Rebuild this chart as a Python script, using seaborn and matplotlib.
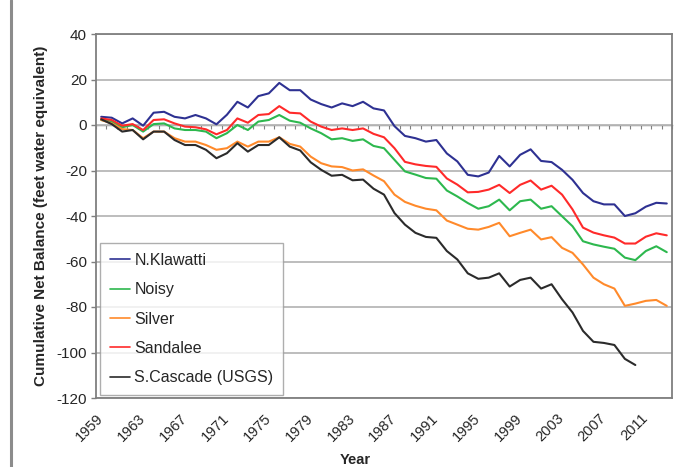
import numpy as np
import pandas as pd
import matplotlib
matplotlib.use("Agg")
import matplotlib.pyplot as plt
from matplotlib.lines import Line2D
import seaborn as sns

years = list(range(1959, 2014))

n_klawatti = [3.6, 3.2, 0.7, 2.9, -0.3, 5.4, 5.8, 3.6, 2.9, 4.4, 2.9,
              0.3, 4.5, 10.2, 7.7, 12.7, 13.9, 18.5, 15.3, 15.3, 11.2,
              9.2, 7.7, 9.5, 8.3, 10.2, 7.3, 6.4, -0.5, -4.8, -5.8,
              -7.3, -6.6, -12.5, -16.0, -21.9, -22.6, -20.9, -13.6, -18.2, -13.1,
              -10.7, -15.8, -16.3, -19.7, -24.1, -29.9, -33.5, -34.9, -34.9, -40.0,
              -38.8, -35.9, -34.2, -34.5]

noisy = [2.2, 1.5, -1.0, 0.0, -2.9, 0.4, 0.7, -1.5, -2.2, -2.2, -2.9,
         -5.8, -3.6, 0.0, -2.2, 1.5, 2.2, 4.4, 1.9, 1.0, -1.5,
         -3.6, -6.3, -5.8, -7.0, -6.3, -9.2, -10.2, -15.3, -20.4, -21.8,
         -23.3, -23.6, -28.8, -31.4, -34.3, -36.8, -35.7, -32.8, -37.5, -33.5,
         -32.8, -36.8, -35.7, -40.1, -44.5, -51.1, -52.5, -53.5, -54.4, -58.3,
         -59.4, -55.4, -53.3, -55.9]

silver = [2.2, 0.7, -1.8, -2.2, -5.8, -2.9, -2.9, -5.8, -7.3, -7.3, -8.8,
          -10.9, -10.2, -7.3, -9.5, -7.3, -7.3, -5.4, -8.3, -9.5, -13.9,
          -16.8, -18.2, -18.5, -20.0, -19.5, -22.2, -24.7, -30.6, -33.8, -35.5,
          -36.8, -37.5, -42.0, -43.8, -45.6, -46.0, -44.8, -43.0, -48.9, -47.4,
          -46.0, -50.3, -49.3, -54.0, -56.2, -61.3, -67.1, -70.0, -71.9, -79.5,
          -78.5, -77.3, -76.9, -79.5]

sandalee = [2.9, 2.2, -0.3, 0.4, -2.2, 2.2, 2.5, 0.7, -0.7, -1.0, -1.9,
            -4.1, -2.2, 2.9, 1.0, 4.4, 4.8, 8.3, 5.4, 5.1, 1.5,
            -0.7, -2.2, -1.5, -2.2, -1.5, -3.9, -5.4, -10.2, -16.2, -17.3,
            -18.0, -18.4, -23.5, -26.2, -29.6, -29.4, -28.4, -26.3, -29.9, -26.3,
            -24.4, -28.4, -26.7, -30.6, -37.1, -45.1, -47.3, -48.5, -49.5, -52.1,
            -52.1, -49.1, -47.6, -48.5]

s_cascade = [2.5, 0.4, -2.9, -2.2, -6.3, -2.9, -2.9, -6.6, -8.8, -8.8, -10.9,
             -14.6, -12.4, -8.0, -11.7, -8.8, -8.8, -5.4, -9.5, -11.2, -16.4,
             -19.7, -22.3, -21.9, -24.3, -24.0, -28.0, -30.6, -38.7, -43.8, -47.4,
             -49.2, -49.6, -55.4, -59.1, -65.2, -67.6, -67.1, -65.2, -71.0, -68.1,
             -67.1, -71.9, -70.0, -76.6, -82.4, -90.5, -95.3, -95.8, -96.7, -102.8,
             -105.5, np.nan, np.nan, np.nan]

series_names = ["N.Klawatti", "Noisy", "Silver", "Sandalee", "S.Cascade (USGS)"]
series_values = [n_klawatti, noisy, silver, sandalee, s_cascade]
colors = ["#2E3192", "#2DB84E", "#FF8A2B", "#FF2A2A", "#2B2B2B"]
tick_years = list(range(1959, 2012, 4))

frames = []
for name, vals in zip(series_names, series_values):
    frames.append(pd.DataFrame({"Year": years, "Value": vals, "Glacier": name}))
df = pd.concat(frames).dropna()

sns.set_style("white")
plt.rcParams["font.family"] = ["Liberation Sans", "DejaVu Sans"]
plt.rcParams["axes.unicode_minus"] = False

fig = plt.figure(figsize=(6.78, 4.67), dpi=100)
ax = fig.add_axes([96 / 678, 1 - 398 / 467, 576 / 678, 364 / 467])

sns.lineplot(data=df, x="Year", y="Value", hue="Glacier", hue_order=series_names,
             palette=dict(zip(series_names, colors)), linewidth=1.5, ax=ax,
             legend=True, estimator=None)

ax.set_xlim(1958.5, 2013.5)
ax.set_ylim(-120, 40)
ax.set_yticks(np.arange(-120, 41, 20))
ax.yaxis.grid(True, color="#b8b8b8", linewidth=1.3)
ax.xaxis.grid(False)
ax.set_axisbelow(True)
for s in ax.spines.values():
    s.set_visible(True)
    s.set_color("#7f7f7f")
    s.set_linewidth(1.3)

ax.set_xticks(tick_years)
ax.set_xticklabels([str(y) for y in tick_years], rotation=45, ha="right",
                   va="center", rotation_mode="anchor", fontsize=10.5)
ax.tick_params(axis="x", length=0, pad=13)
ax.tick_params(axis="y", left=True, length=3.5, width=1, color="#7f7f7f",
               labelsize=11, pad=3)
ax.set_xlabel("Year", fontsize=10.5, fontweight="bold")
ax.xaxis.set_label_coords(0.45, -0.15)
ax.set_ylabel("Cumulative Net Balance (feet water equivalent)", fontsize=11,
              fontweight="bold", labelpad=6)

# category axis crossing at zero, with tick marks at each category boundary
tw = ax.twiny()
tw.set_xlim(ax.get_xlim())
tw.xaxis.set_ticks_position("bottom")
tw.spines["bottom"].set_position(("data", 0))
tw.spines["bottom"].set_color("#808080")
tw.spines["bottom"].set_linewidth(1.0)
for k in ["top", "left", "right"]:
    tw.spines[k].set_visible(False)
tw.set_xticks(np.arange(1958.5, 2014, 1.0))
tw.set_xticklabels([])
tw.tick_params(axis="x", direction="out", length=3, width=0.8, color="#808080")
tw.set_zorder(ax.get_zorder() - 1)
ax.patch.set_visible(False)

leg = ax.legend(loc="lower left", bbox_to_anchor=(4 / 576, 3 / 364),
                borderaxespad=0, frameon=True, fancybox=False, fontsize=11.5,
                labelspacing=0.9, handlelength=1.3, handletextpad=0.25,
                borderpad=0.6, title=None)
leg.get_frame().set_edgecolor("#9a9a9a")
leg.get_frame().set_linewidth(1.0)
for h in leg.get_lines():
    h.set_linewidth(1.2)

fig.add_artist(Line2D([11 / 678, 11 / 678], [0, 1], transform=fig.transFigure,
                      color="#8c8c8c", linewidth=2.2))

fig.savefig("out.png", dpi=100)
